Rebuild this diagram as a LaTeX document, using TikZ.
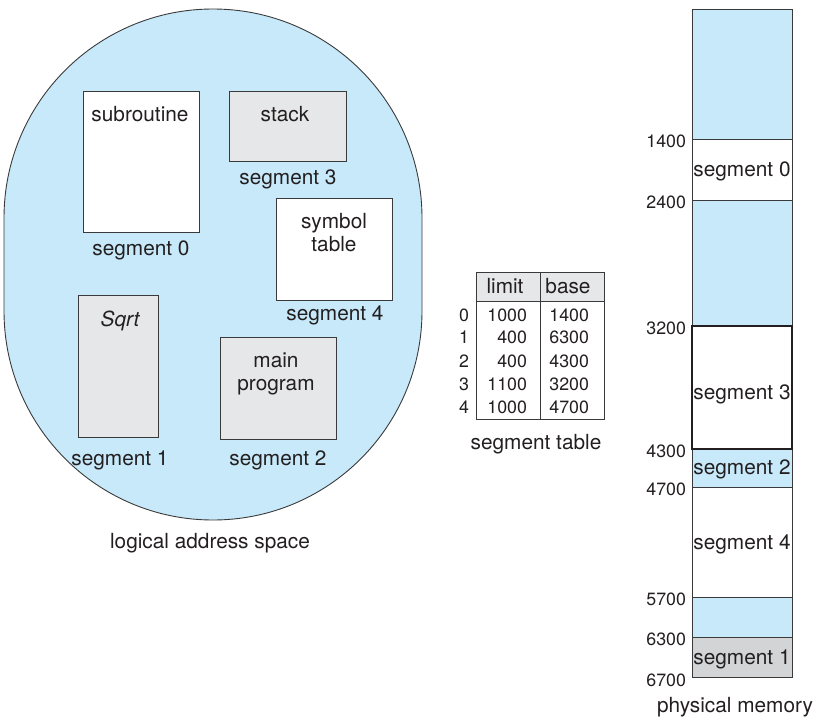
\documentclass[tikz,border=0pt]{standalone}
\usepackage{fontspec}
\setmainfont{TeX Gyre Heros}
\definecolor{memblue}{HTML}{C7E9F9}
\definecolor{boxgray}{HTML}{E6E7E8}
\definecolor{seggray}{HTML}{D3D4D6}
\definecolor{ink}{HTML}{231F20}
\definecolor{edge}{HTML}{3A3A3A}
\begin{document}
\begin{tikzpicture}[x=1pt,y=-1pt,
  every node/.style={font=\fontsize{20.8}{23}\selectfont, text=ink, inner sep=0pt, outer sep=0pt},
  blob/.style={draw=edge, line width=0.9pt, fill=memblue},
  segbox/.style={draw=edge, line width=1pt, anchor=north west},
  lbl/.style={anchor=base},
  cell/.style={draw=edge, line width=1pt, anchor=north west, minimum width=64pt},
  num/.style={anchor=base east, font=\fontsize{17.8}{20}\selectfont},
  mem/.style={draw=edge, line width=1pt, anchor=north west, minimum width=100pt},
  addr/.style={anchor=east, font=\fontsize{17.8}{20}\selectfont}]
\useasboundingbox (0,0) rectangle (816,725);

% logical address space
\draw[blob] (4,218) arc[start angle=180,end angle=0,radius=209pt] -- (422,311)
  arc[start angle=0,end angle=-180,radius=209pt] -- cycle;

\node[segbox, fill=white, minimum width=116pt, minimum height=141pt] (sub) at (83,91) {};
\node[lbl] (subt) at (140,121) {subroutine};
\node[lbl] (s0) at (141,255) {segment 0};

\node[segbox, fill=boxgray, minimum width=117pt, minimum height=70pt] (stk) at (229,91) {};
\node[lbl] (stkt) at (285,121) {stack};
\node[lbl] (s3) at (288,184) {segment 3};

\node[segbox, fill=white, minimum width=116pt, minimum height=102pt] (sym) at (276,198) {};
\node[lbl] (symt) at (334,228) {symbol};
\node[lbl] (symt2) at (334,251) {table};
\node[lbl] (s4) at (335,320) {segment 4};

\node[segbox, fill=boxgray, minimum width=80pt, minimum height=142pt] (sqrt) at (78,295) {};
\node[lbl] (sqrtt) at (120,326) {\itshape Sqrt};
\node[lbl] (s1) at (120,465) {segment 1};

\node[segbox, fill=boxgray, minimum width=116pt, minimum height=102pt] (mainp) at (220,337) {};
\node[lbl] (maint) at (276,367) {main};
\node[lbl] (maint2) at (276,390) {program};
\node[lbl] (s2) at (278,465) {segment 2};

\node[lbl] (las) at (210,548) {logical address space};

% segment table
\node[cell, fill=boxgray, minimum height=29pt] (hlim) at (476,272) {};
\node[cell, fill=boxgray, minimum height=29pt] (hbase) at (540,272) {};
\node[lbl] (hlimt) at (505,293) {limit};
\node[lbl] (hbaset) at (568,293) {base};
\node[cell, minimum height=118pt] (blim) at (476,301) {};
\node[cell, minimum height=118pt] (bbase) at (540,301) {};
\node[num] (i0) at (469,321) {0};
\node[num] (i1) at (469,343) {1};
\node[num] (i2) at (469,367) {2};
\node[num] (i3) at (469,390) {3};
\node[num] (i4) at (469,413) {4};
\node[num] (l0) at (527,321) {1000};
\node[num] (l1) at (527,343) {400};
\node[num] (l2) at (527,367) {400};
\node[num] (l3) at (527,390) {1100};
\node[num] (l4) at (527,413) {1000};
\node[num] (b0) at (589,321) {1400};
\node[num] (b1) at (589,343) {6300};
\node[num] (b2) at (589,367) {4300};
\node[num] (b3) at (589,390) {3200};
\node[num] (b4) at (589,413) {4700};
\node[lbl] (st) at (536,449) {segment table};

% physical memory
\node[mem, fill=memblue, minimum height=129pt] (m0) at (692,10) {};
\node[mem, fill=white, minimum height=61pt] (m1) at (692,139) {};
\node[mem, fill=memblue, minimum height=126pt] (m2) at (692,200) {};
\node[mem, fill=memblue, minimum height=38pt] (m4) at (692,449) {};
\node[mem, fill=white, minimum height=110pt] (m5) at (692,487) {};
\node[mem, fill=memblue, minimum height=40pt] (m6) at (692,597) {};
\node[mem, fill=seggray, minimum height=40pt] (m7) at (692,637) {};
\node[mem, fill=white, minimum height=123pt, line width=2pt, draw=ink] (m3) at (692,326) {};
\node[lbl] (m1t) at (742,176) {segment 0};
\node[lbl] (m3t) at (742,399) {segment 3};
\node[lbl] (m4t) at (742,474) {segment 2};
\node[lbl] (m5t) at (742,549) {segment 4};
\node[lbl] (m7t) at (742,664) {segment 1};

\node[addr] (a1) at (686,141) {1400};
\node[addr] (a2) at (686,202) {2400};
\node[addr] (a3) at (686,328) {3200};
\node[addr] (a4) at (686,451) {4300};
\node[addr] (a5) at (686,489) {4700};
\node[addr] (a6) at (686,599) {5700};
\node[addr] (a7) at (686,639) {6300};
\node[addr] (a8) at (686,680) {6700};
\node[lbl] (pm) at (735,712) {physical memory};
\end{tikzpicture}
\end{document}
